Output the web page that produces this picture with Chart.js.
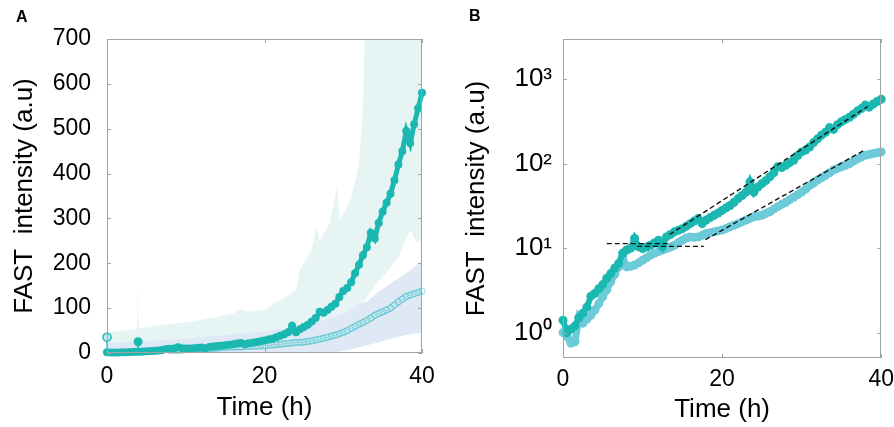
<!DOCTYPE html>
<html><head><meta charset="utf-8">
<script src="https://cdn.jsdelivr.net/npm/chart.js@4.4.0/dist/chart.umd.min.js"></script>
<style>
html,body{margin:0;padding:0;background:#fff;}
#wrap{position:relative;width:894px;height:427px;overflow:hidden;background:#fff;}
.pane{position:absolute;top:0;width:447px;height:427px;}
.lab{position:absolute;font:bold 16px "Liberation Sans",Arial,sans-serif;color:#000;}
</style></head><body>
<div id="wrap">
<div class="pane" style="left:0"><canvas id="cA" width="447" height="427"></canvas></div>
<div class="pane" style="left:447px"><canvas id="cB" width="447" height="427"></canvas></div>
<div class="lab" style="left:16px;top:8px">A</div>
<div class="lab" style="left:469px;top:7px">B</div>
</div>
<script>
// ---- data ----
const timeH = [0,0.5,1,1.5,2,2.5,3,3.5,4,4.5,5,5.5,6,6.5,7,7.5,8,8.5,9,9.5,10,10.5,11,11.5,12,12.5,13,13.5,14,14.5,15,15.5,16,16.5,17,17.5,18,18.5,19,19.5,20,20.5,21,21.5,22,22.5,23,23.5,24,24.5,25,25.5,26,26.5,27,27.5,28,28.5,29,29.5,30,30.5,31,31.5,32,32.5,33,33.5,34,34.5,35,35.5,36,36.5,37,37.5,38,38.5,39,39.5,40];
const darkSeries = [1.4,1.0,1.1,1.2,1.5,1.7,2.0,2.7,2.9,3.3,3.7,4.4,5.0,5.8,6.6,8.7,9.5,10,13,10.4,9.9,10.3,10.8,11.5,12.4,10.4,13.6,14.5,15.6,16.3,17,18.2,19.5,21,22.4,19.5,21.5,23,24.5,26,28,30,32,35,38.6,42,46,61,46,53,58,63,70,78,92,90,96,103,110,125,138,145,158,178,197,218,236,268,255,290,315,335,355,385,420,450,495,468,510,545,580];
const lightSeries = [1.0,0.9,0.75,0.78,1.5,1.3,1.45,1.6,1.85,2.2,2.65,3.2,4.0,4.9,6.0,7.9,6.0,6.1,6.3,6.7,7.2,7.7,8.3,8.7,9.1,9.5,9.9,10.3,10.8,11.6,12.4,13.2,13.6,13.4,13.6,14.2,14.9,15.2,15.6,16,16.4,17.1,17.9,18.7,19.5,20.5,21.5,22.5,23.5,24,24.5,25.8,27,29,31,33,35,37.5,40,43,46,50,55,59,64,68,73,78,84,88,92,96,100,107,114,120,126,129,132,135,138];

// isolated spikes (stems) seen only in panel A
const spikeDarkTime = [3.95];
const spikeDarkBase = [2.9];
const spikeDarkValue = [25];
const spikeLightTime = [0];
const spikeLightBase = [1.0];
const spikeLightValue = [35];

// shaded bands in panel A
const tealBandTime  = [0,2,3.8,3.9,4.0,6,8,10,12,14,16,17,18,20,22,24,24.5,26,26.6,27,28.3,29.2,29.6,31,32,32.5,33,34,35,36,37,38,38.5,39.4,40];
const tealBandUpper = [45,50,53,150,55,60,65,68,74,80,88,97,92,96,118,140,185,230,281,250,290,370,296,345,420,550,900,900,900,900,900,900,900,900,900];
const tealBandLower = [0,0,0,0,0,0,0,0,0,0,0,0,0,0,0,0,0,0,0,30,62,70,75,88,100,110,125,150,170,190,215,255,274,245,255];
const blueBandTime  = [0,5,10,16,20,24,26,27,28.3,29.2,29.6,31,32,32.5,33,34,36,38,40];
const blueBandUpper = [22,27,32,42,48,58,66,70,77,83,86,96,108,112,115,130,155,178,205];
const blueBandLower = [0,0,0,0,0,0,0,0,0,2,4,8,13,15,17,22,32,40,45];

// dashed exponential fits in panel B
const fitDarkFlatTime = [5.5,13.6];  const fitDarkFlatValue = [11.3,11.3];
const fitDarkExpTime  = [13.4,38.3]; const fitDarkExpValue  = [14.5,476];
const fitLightFlatTime = [9.3,17.7]; const fitLightFlatValue = [10.5,10.5];
const fitLightExpTime  = [17.9,38.0]; const fitLightExpValue = [12.6,147];

// ticks
const xTickValues = [0,20,40];
const xTickLabels = ['0','20','40'];
const yTickValuesA = [0,100,200,300,400,500,600,700];
const yTickLabelsA = ['0','100','200','300','400','500','600','700'];
const yTickValuesB = [1,10,100,1000];
const yTickLabelsB = ['10\u2070','10\u00B9','10\u00B2','10\u00B3'];

// ---- helpers ----
const pts = (xs, ys) => xs.map((x, i) => ({x: x, y: ys[i]}));
const stem = (t, base, top) => [{x: t, y: base}, {x: t, y: top}];

const DARK = '#1ab8b1';
const LIGHT = '#6dcad8';
const FONT = '"Liberation Sans", Arial, sans-serif';

const frame = {
  id: 'frame',
  afterDatasetsDraw(chart) {
    const ctx = chart.ctx, a = chart.chartArea;
    const L = 4;
    ctx.save();
    ctx.strokeStyle = '#a3a3a3';
    ctx.lineWidth = 1;
    ctx.strokeRect(Math.round(a.left) + 0.5, Math.round(a.top) + 0.5,
                   Math.round(a.right - a.left) - 1, Math.round(a.bottom - a.top) - 1);
    ctx.beginPath();
    chart.scales.x.ticks.forEach(t => {
      const p = Math.round(chart.scales.x.getPixelForValue(t.value)) + 0.5;
      ctx.moveTo(p, a.bottom); ctx.lineTo(p, a.bottom - L);
      ctx.moveTo(p, a.top); ctx.lineTo(p, a.top + L);
    });
    chart.scales.y.ticks.forEach(t => {
      const p = Math.round(chart.scales.y.getPixelForValue(t.value)) + 0.5;
      ctx.moveTo(a.left, p); ctx.lineTo(a.left + L, p);
      ctx.moveTo(a.right, p); ctx.lineTo(a.right - L, p);
    });
    ctx.stroke();
    ctx.restore();
  }
};

function xScale(pad, titlePadBottom, h) {
  return {
    type: 'linear', min: 0, max: 40,
    afterBuildTicks: ax => { ax.ticks = xTickValues.map(v => ({value: v})); },
    ticks: { callback: (v, i) => xTickLabels[i], color: '#000', font: {family: FONT, size: 23}, padding: pad, maxRotation: 0 },
    grid: { display: false }, border: { display: false },
    title: { display: true, text: 'Time (h)', color: '#000', font: {family: FONT, size: 26}, padding: {top: 0, bottom: titlePadBottom} },
    afterFit: s => { s.height = h; }
  };
}

// ---- panel A ----
new Chart(document.getElementById('cA'), {
  type: 'line',
  data: {
    datasets: [
      { data: pts(tealBandTime, tealBandUpper), fill: '+1', backgroundColor: '#e6f5f4', borderWidth: 0, pointRadius: 0, order: 4 },
      { data: pts(tealBandTime, tealBandLower), fill: false, borderWidth: 0, pointRadius: 0, order: 4 },
      { data: pts(blueBandTime, blueBandUpper), fill: '+1', backgroundColor: '#dfe8f5', borderWidth: 0, pointRadius: 0, order: 3 },
      { data: pts(blueBandTime, blueBandLower), fill: false, borderWidth: 0, pointRadius: 0, order: 3 },
      // light series drawn as a tube of hollow rings
      { data: pts(timeH, lightSeries), borderColor: LIGHT, borderWidth: 6.5, pointRadius: 0, fill: false, order: 2.2, clip: false },
      { data: pts(timeH, lightSeries), borderColor: '#d4eef2', borderWidth: 4, pointRadius: 0, fill: false, order: 2.1, clip: false },
      { data: pts(timeH, lightSeries), borderColor: 'rgba(109,202,216,0.7)', borderWidth: 0.8, clip: false,
        pointRadius: 3.2, pointBorderWidth: 0.9, pointBorderColor: 'rgba(109,202,216,0.8)', pointBackgroundColor: 'rgba(255,255,255,0)', fill: false, order: 2 },
      // stem with hollow ring at t = 0
      { data: stem(spikeLightTime[0], spikeLightBase[0], spikeLightValue[0]), borderColor: '#3fbfc0', borderWidth: 1.5, clip: false,
        pointRadius: [0, 4], pointBorderWidth: 1.8, pointBorderColor: '#3fbfc0', pointBackgroundColor: '#c8ecee', fill: false, order: 1.5 },
      { data: pts(timeH, darkSeries), borderColor: DARK, borderWidth: 5, clip: false,
        pointRadius: 4, pointBorderWidth: 0, pointBackgroundColor: DARK, fill: false, order: 1 },
      // stem with filled dot at t = 3.95
      { data: stem(spikeDarkTime[0], spikeDarkBase[0], spikeDarkValue[0]), borderColor: DARK, borderWidth: 2, clip: false,
        pointRadius: [0, 4.5], pointBorderWidth: 0, pointBackgroundColor: DARK, fill: false, order: 0.5 }
    ]
  },
  options: {
    responsive: false, animation: false, events: [],
    layout: { padding: { left: 0, right: 25, top: 39, bottom: 0 } },
    plugins: { legend: { display: false }, tooltip: { enabled: false } },
    scales: {
      x: xScale(2, 4, 74),
      y: {
        type: 'linear', min: 0, max: 700,
        afterBuildTicks: ax => { ax.ticks = yTickValuesA.map(v => ({value: v})); },
        ticks: { callback: (v, i) => yTickLabelsA[i], color: '#000', font: {family: FONT, size: 23}, padding: 8 },
        grid: { display: false }, border: { display: false },
        title: { display: true, text: 'FAST  intensity (a.u)', color: '#000', font: {family: FONT, size: 26}, padding: {top: 9, bottom: 0} },
        afterFit: s => { s.width = 107; }
      }
    }
  },
  plugins: [frame]
});

// ---- panel B ----
const dashed = (xs, ys) => ({ data: pts(xs, ys), borderColor: '#111', borderWidth: 1.4, borderDash: [5, 3], pointRadius: 0, fill: false, order: 0 });
new Chart(document.getElementById('cB'), {
  type: 'line',
  data: {
    datasets: [
      { data: pts(timeH, lightSeries), borderColor: LIGHT, borderWidth: 7, pointRadius: 4.5, pointBorderWidth: 0, pointBackgroundColor: LIGHT, fill: false, order: 2, clip: false },
      { data: pts(timeH, darkSeries), borderColor: DARK, borderWidth: 6, pointRadius: 4.5, pointBorderWidth: 0, pointBackgroundColor: DARK, fill: false, order: 1, clip: false },
      dashed(fitDarkFlatTime, fitDarkFlatValue),
      dashed(fitDarkExpTime, fitDarkExpValue),
      dashed(fitLightFlatTime, fitLightFlatValue),
      dashed(fitLightExpTime, fitLightExpValue)
    ]
  },
  options: {
    responsive: false, animation: false, events: [],
    layout: { padding: { left: 0, right: 12, top: 39, bottom: 0 } },
    plugins: { legend: { display: false }, tooltip: { enabled: false } },
    scales: {
      x: xScale(0, 2, 69),
      y: {
        type: 'logarithmic', min: 0.5, max: 3000,
        afterBuildTicks: ax => { ax.ticks = yTickValuesB.map(v => ({value: v})); },
        ticks: { callback: (v, i) => yTickLabelsB[i], color: '#000', font: {family: FONT, size: 26}, padding: 3 },
        grid: { display: false }, border: { display: false },
        title: { display: true, text: 'FAST  intensity (a.u)', color: '#000', font: {family: FONT, size: 26}, padding: {top: 14, bottom: 0} },
        afterFit: s => { s.width = 116; }
      }
    }
  },
  plugins: [frame]
});
</script>
</body></html>
